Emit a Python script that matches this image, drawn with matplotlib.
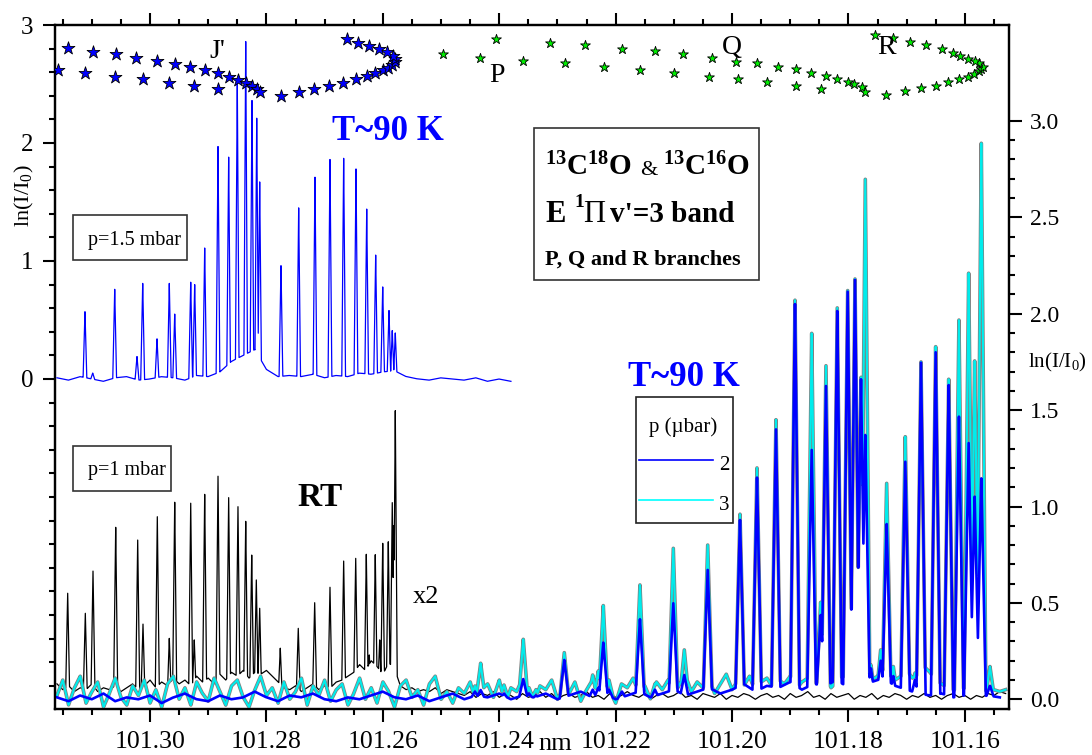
import numpy as np
import matplotlib
matplotlib.use("Agg")
import matplotlib.pyplot as plt
from matplotlib.ticker import MultipleLocator, FixedLocator, FormatStrFormatter
from matplotlib.patches import Rectangle
from matplotlib.lines import Line2D

plt.rcParams['font.family'] = ['Liberation Serif', 'DejaVu Serif']
plt.rcParams['mathtext.fontset'] = 'custom'
plt.rcParams['mathtext.rm'] = 'Liberation Serif'
plt.rcParams['mathtext.it'] = 'Liberation Serif:italic'
plt.rcParams['mathtext.bf'] = 'Liberation Serif:bold'

# ---------------- data ----------------
# T~90 K, p=1.5 mbar spectrum (left axis)
upper_peak_nm = [101.31119, 101.30986, 101.30608, 101.30225, 101.30127, 101.29881, 101.29670,
                 101.29577, 101.29302, 101.29234, 101.29062, 101.28833, 101.28650, 101.28502,
                 101.28357, 101.28249, 101.28168, 101.28117, 101.27751, 101.27447, 101.27167,
                 101.26909, 101.26674, 101.26462, 101.26278, 101.26124, 101.26003, 101.25895,
                 101.25839, 101.25787]
upper_peak_h = [0.57, 0.05, 0.76, 0.19, 0.81, 0.34, 0.81, 0.55, 0.82, 0.80, 1.11, 1.97, 1.88, 2.53,
                2.86, 2.36, 2.21, 1.67, 0.96, 1.45, 1.71, 1.86, 1.87, 1.78, 1.44, 1.05, 0.78, 0.58,
                0.41, 0.39]
upper_base = [0.01, -0.01, 0.02, 0.00, -0.02, 0.01, 0.02, -0.01, 0.00, 0.02,
              0.01, -0.01, 0.03, 0.02, 0.06, 0.15, 0.20, 0.25, 0.08, 0.02,
              0.03, 0.02, 0.04, 0.01, 0.03, 0.02, 0.05, 0.04, 0.06, 0.07,
              0.02, 0.00, -0.01, 0.01, 0.00, -0.01, 0.01, -0.02, 0.00, -0.02]

# RT, p=1 mbar spectrum (x2, right axis)
rt_peak_nm = [101.31416, 101.31113, 101.30981, 101.30591, 101.30213, 101.30122, 101.29876,
              101.29670, 101.29577, 101.29302, 101.29241, 101.29062, 101.28833, 101.28650,
              101.28490, 101.28357, 101.28254, 101.28175, 101.28117, 101.27763, 101.27454,
              101.27172, 101.26909, 101.26674, 101.26467, 101.26285, 101.26234, 101.26131,
              101.26055, 101.26003, 101.25907, 101.25839, 101.25813, 101.25787]
rt_peak_h = [0.55, 0.446, 0.665, 0.892, 0.826, 0.39, 0.947, 0.316, 1.022, 1.017, 0.308, 1.063,
             1.157, 1.046, 0.999, 0.923, 0.748, 0.619, 0.472, 0.265, 0.368, 0.501, 0.581, 0.717,
             0.731, 0.752, 0.23, 0.75, 0.308, 0.809, 0.817, 1.02, 0.90, 1.497]
rt_base = [0.08, 0.05, 0.07, 0.04, 0.06, 0.05, 0.08, 0.04, 0.06, 0.05,
           0.07, 0.04, 0.06, 0.08, 0.05, 0.07, 0.10, 0.06, 0.09, 0.07,
           0.11, 0.08, 0.10, 0.07, 0.12, 0.09, 0.11, 0.08, 0.13, 0.10,
           0.14, 0.12, 0.15, 0.11, 0.14, 0.13, 0.15, 0.12, 0.09, 0.06,
           0.05, 0.07, 0.04, 0.06, 0.08, 0.05, 0.07, 0.06, 0.09, 0.10,
           0.12, 0.14, 0.18, 0.15, 0.20, 0.17, 0.13, 0.19, 0.16, 0.07,
           0.05, 0.06, 0.04, 0.05, 0.04, 0.06, 0.03, 0.05, 0.04, 0.03,
           0.02, 0.04, 0.01, 0.03, 0.02, 0.04, 0.01, 0.03, 0.02, 0.00,
           0.03, 0.01, 0.02, 0.04, 0.01, 0.03, 0.00, 0.02, 0.03, 0.01,
           0.02, 0.04, 0.01, 0.02, 0.00, 0.03, 0.01, 0.02, 0.04, 0.02,
           0.01, 0.03, 0.00, 0.02, 0.03, 0.01, 0.02, 0.04, 0.01, 0.02,
           0.00, 0.03, 0.02, 0.01, 0.03, 0.00, 0.02, 0.01, 0.03, 0.02,
           0.00, 0.02, 0.03, 0.01, 0.02, 0.00, 0.03, 0.01, 0.02, 0.04,
           0.01, 0.02, 0.00, 0.03, 0.01, 0.02, 0.03, 0.00, 0.02, 0.01,
           0.03, 0.00, 0.02, 0.01, 0.03, 0.02, 0.00, 0.02, 0.01, 0.03,
           0.01, 0.02, 0.00, 0.02, 0.03, 0.01, 0.02, 0.00, 0.02, 0.01,
           0.03, 0.02, 0.04, 0.03]

# T~90 K spectra at p = 2 and 3 microbar (right axis)
cold_peak_nm = [101.24418, 101.24320, 101.23919, 101.23588, 101.23490, 101.23369, 101.22883,
                101.22395, 101.22299, 101.22213, 101.22115, 101.21892, 101.21583, 101.21325,
                101.21010, 101.20821, 101.20419, 101.19864, 101.19572, 101.19246, 101.18919,
                101.18632, 101.18478, 101.18387, 101.18193, 101.18014, 101.17888, 101.17785,
                101.17711, 101.17614, 101.17447, 101.17344, 101.17230, 101.17024, 101.16858,
                101.16754, 101.16502, 101.16278, 101.16102, 101.15935, 101.15832, 101.15718,
                101.15569]
p3_peak_h = [0.069, 0.187, 0.074, 0.311, 0.06, 0.05, 0.242, 0.126, 0.147, 0.486, 0.10, 0.06,
             0.593, 0.08, 0.783, 0.256, 0.80, 0.96, 1.20, 1.45, 2.07, 1.898, 0.503, 1.73, 2.03,
             2.12, 2.18, 1.67, 2.697, 0.178, 0.256, 1.12, 0.17, 1.362, 0.136, 1.75, 1.829, 1.66,
             1.967, 2.21, 1.755, 2.884, 0.17]
p2_peak_h = [0.04, 0.048, 0.03, 0.105, 0.03, 0.02, 0.204, 0.05, 0.06, 0.294, 0.05, 0.04,
             0.415, 0.05, 0.498, 0.126, 0.671, 0.93, 1.15, 1.40, 2.05, 1.293, 0.437, 1.625, 2.014,
             2.114, 2.175, 1.66, 1.371, 0.16, 0.20, 0.909, 0.12, 1.232, 0.10, 1.746, 1.80, 1.63,
             1.466, 1.329, 1.051, 1.146, 0.07]
p3_base = [0.02, 0.10, -0.03, 0.06, 0.12, -0.02, 0.04, 0.09, -0.04, 0.03,
           0.11, 0.01, -0.03, 0.07, 0.02, 0.10, -0.02, 0.05, -0.04, 0.08,
           0.12, 0.00, 0.06, -0.03, 0.09, 0.03, -0.01, 0.11, 0.04, -0.03,
           0.07, 0.10, 0.01, -0.04, 0.05, 0.12, 0.02, 0.06, -0.02, 0.09,
           0.00, 0.04, 0.11, -0.03, 0.07, 0.02, 0.10, -0.01, 0.05, 0.08,
           -0.03, 0.03, 0.11, 0.00, 0.06, -0.02, 0.09, 0.04, -0.04, 0.07,
           0.10, 0.01, 0.05, -0.03, 0.08, 0.12, 0.00, 0.04, -0.02, 0.06,
           0.03, 0.09, -0.02, 0.05, 0.08, 0.01, 0.10, -0.03, 0.06, 0.04,
           0.11, 0.02, -0.02, 0.07, 0.05, 0.10, 0.00, 0.06, 0.03, 0.09,
           -0.01, 0.05, 0.10, 0.02, 0.07, 0.04, -0.02, 0.08, 0.06, 0.11,
           0.03, 0.07, 0.00, 0.09, 0.05, 0.10, 0.02, 0.08, 0.12, 0.04,
           0.09, 0.06, 0.11, 0.03, 0.08, 0.13, 0.05, 0.10, 0.07, 0.12,
           0.04, 0.09, 0.11, 0.06, 0.10, 0.08, 0.12, 0.05, 0.09, 0.11,
           0.07, 0.10, 0.13, 0.06, 0.09, 0.12, 0.08, 0.11, 0.14, 0.07,
           0.10, 0.12, 0.09, 0.13, 0.10, 0.12, 0.15, 0.11, 0.13, 0.17,
           0.14, 0.10, 0.08, 0.06, 0.05, 0.04, 0.06, 0.05, 0.04, 0.05,
           0.04, 0.05, 0.04, 0.05]
p2_base = [0.01, -0.01, 0.02, 0.00, 0.03, -0.01, 0.01, 0.00, 0.02, -0.02,
           0.01, 0.03, 0.00, -0.01, 0.02, 0.00, 0.01, 0.04, 0.01, -0.01,
           0.02, 0.01, 0.03, 0.00, -0.01, 0.01, 0.00, 0.02, 0.04, 0.01,
           0.00, 0.02, -0.01, 0.01, 0.03, 0.00, 0.02, 0.01, 0.03, 0.00,
           0.02, 0.01, 0.03, 0.00, 0.02, 0.04, 0.01, 0.03, 0.00, 0.02,
           0.04, 0.01, 0.03, 0.05, 0.02, 0.04, 0.06, 0.03, 0.05, 0.08,
           0.04, 0.07, 0.06, 0.09, 0.05, 0.08, 0.07, 0.10, 0.06, 0.08,
           0.09, 0.11, 0.07, 0.05, 0.03, 0.02, 0.03, 0.01, 0.02, 0.01,
           0.02, 0.01]

# rotational quantum number J' markers (drawn on the left scale)
blue_star_nm = [101.31582, 101.31416, 101.30981, 101.30581, 101.30237, 101.29881, 101.29572,
                101.29309, 101.29057, 101.28833, 101.28650, 101.28490, 101.28357, 101.28244,
                101.28168, 101.28117, 101.31113, 101.30608, 101.30127, 101.29670, 101.29241,
                101.28833, 101.27751, 101.27447, 101.27179, 101.26921, 101.26680, 101.26467,
                101.26278, 101.26131, 101.26003, 101.25907, 101.25839, 101.25797, 101.25792,
                101.25832, 101.25935, 101.26067, 101.26234, 101.26423, 101.26622]
blue_star_val = [2.619, 2.803, 2.774, 2.752, 2.720, 2.695, 2.669, 2.642, 2.616, 2.593, 2.562,
                 2.536, 2.508, 2.483, 2.460, 2.432, 2.591, 2.562, 2.540, 2.511, 2.483, 2.460,
                 2.401, 2.432, 2.458, 2.483, 2.511, 2.540, 2.565, 2.591, 2.616, 2.638, 2.661,
                 2.689, 2.709, 2.737, 2.771, 2.799, 2.825, 2.850, 2.881]
green_star_nm = [101.24967, 101.24323, 101.24048, 101.23588, 101.23127, 101.22876, 101.22534,
                 101.22206, 101.21890, 101.21581, 101.21318, 101.20990, 101.20839, 101.20399,
                 101.20352, 101.19906, 101.19931, 101.19576, 101.19392, 101.19215, 101.18899,
                 101.18899, 101.18643, 101.18478, 101.18392, 101.18196, 101.18010, 101.17899,
                 101.17768, 101.17715, 101.17354, 101.17024, 101.16761, 101.16498, 101.16282,
                 101.16105, 101.15947, 101.15847, 101.15763, 101.15724, 101.15696, 101.15763,
                 101.15828, 101.15940, 101.16077, 101.16210, 101.16387, 101.16670, 101.16945,
                 101.17242, 101.17538]
green_star_val = [2.754, 2.718, 2.881, 2.695, 2.850, 2.675, 2.831, 2.642, 2.799, 2.619, 2.777,
                  2.596, 2.757, 2.562, 2.723, 2.540, 2.689, 2.675, 2.519, 2.644, 2.625, 2.486,
                  2.596, 2.460, 2.567, 2.540, 2.517, 2.497, 2.472, 2.435, 2.407, 2.441, 2.464,
                  2.483, 2.519, 2.540, 2.562, 2.585, 2.608, 2.630, 2.647, 2.675, 2.697, 2.714,
                  2.737, 2.765, 2.797, 2.831, 2.853, 2.887, 2.913]

x_ticks = [101.30, 101.28, 101.26, 101.24, 101.22, 101.20, 101.18, 101.16]
left_ticks = [0, 1, 2, 3]
right_ticks = [0.0, 0.5, 1.0, 1.5, 2.0, 2.5, 3.0]

# sampling grids of the baseline readings
UP_START, UP_STEP = 101.316, 0.002
RT_START, RT_STEP = 101.316, 0.001
P3_START, P3_STEP = 101.316, 0.001
P2_START, P2_STEP = 101.316, 0.002


def build(start, step, base, centers, heights, hw, n=9000):
    base = np.asarray(base, float)
    gx = start - step * np.arange(len(base))
    x = np.linspace(gx[-1], gx[0], n)
    x = np.unique(np.concatenate([x, np.asarray(centers, float)]))
    y = np.interp(x, gx[::-1], base[::-1])
    for c, h in zip(centers, heights):
        y = np.maximum(y, h * (1 - np.abs(x - c) / hw))
    return x, y


W, H = 1092, 755
fig = plt.figure(figsize=(W / 100, H / 100), dpi=100)


def fx(px):
    return px / W


def fy(py):
    return 1 - py / H


ax = fig.add_axes([fx(55), fy(709), (1009 - 55) / W, (709 - 25) / H])
ax2 = ax.twinx()

ax.set_xlim(101.31634, 101.15242)
ax.set_ylim(-2.797, 3.0)
ax2.set_ylim(-0.0503, 3.4974)

BLUE = '#0000ff'
CYAN = '#00ecec'

# RT spectrum
xr, yr = build(RT_START, RT_STEP, rt_base, rt_peak_nm, rt_peak_h, 0.00036)
ax2.plot(xr, yr, color='black', lw=0.9, zorder=2)
# 3 microbar
x3, y3 = build(P3_START, P3_STEP, p3_base, cold_peak_nm, p3_peak_h, 0.0008)
ax2.plot(x3, y3, color='#808080', lw=2.6, zorder=3, solid_joinstyle='round')
ax2.plot(x3, y3, color=CYAN, lw=1.5, zorder=3.1, solid_joinstyle='round')
# 2 microbar
x2, y2 = build(P2_START, P2_STEP, p2_base, cold_peak_nm, p2_peak_h, 0.0008)
ax2.plot(x2, y2, color=BLUE, lw=1.9, zorder=4, solid_joinstyle='round')

# upper spectrum (left axis)
xu, yu = build(UP_START, UP_STEP, upper_base, upper_peak_nm, upper_peak_h, 0.00032)
ax.plot(xu, yu, color=BLUE, lw=0.9, zorder=3)

# stars
ax.scatter(blue_star_nm, blue_star_val, marker='*', s=95, c=BLUE, edgecolors='black',
           linewidths=0.6, zorder=6, clip_on=True)
ax.scatter(green_star_nm, green_star_val, marker='*', s=55, c='#00ee00', edgecolors='black',
           linewidths=0.6, zorder=6, clip_on=True)
ax.set_zorder(ax2.get_zorder() + 1)
ax.patch.set_visible(False)

# ticks
ax.xaxis.set_major_locator(FixedLocator(x_ticks))
ax.xaxis.set_minor_locator(MultipleLocator(0.005))
ax.xaxis.set_major_formatter(FormatStrFormatter('%.2f'))
ax.yaxis.set_major_locator(FixedLocator(left_ticks))
minor_left = [round(v, 1) for v in np.arange(-2.6, 3.0, 0.2) if round(v, 1) not in (0.0, 1.0, 2.0)]
ax.yaxis.set_minor_locator(FixedLocator(minor_left))
ax2.yaxis.set_major_locator(FixedLocator(right_ticks))
ax2.yaxis.set_minor_locator(FixedLocator([round(v, 1) for v in np.arange(0.1, 3.0, 0.1)]))
ax2.yaxis.set_major_formatter(FormatStrFormatter('%.1f'))

ax.tick_params(axis='x', which='both', direction='out', top=True, bottom=True,
               labeltop=False, width=1.5, labelsize=18.5, pad=7)
ax.tick_params(axis='x', which='major', length=9)
ax.tick_params(axis='x', which='minor', length=4.5)
ax.tick_params(axis='y', which='both', direction='out', width=1.5, labelsize=18, pad=7)
ax.tick_params(axis='y', which='major', length=8.5)
ax.tick_params(axis='y', which='minor', length=4.5)
ax2.tick_params(axis='y', which='both', direction='out', width=1.5, labelsize=17, pad=6)
ax2.tick_params(axis='y', which='major', length=9)
ax2.tick_params(axis='y', which='minor', length=4.5)
for a in (ax, ax2):
    for s in a.spines.values():
        s.set_linewidth(1.6)

# axis labels
fig.text(fx(24), fy(196), r'ln(I/I$_0$)', rotation=90, fontsize=16, ha='center', va='center')
fig.text(fx(1057), fy(362), r'ln(I/I$_0$)', fontsize=15, ha='center', va='center')
fig.text(fx(555), fy(744), 'nm', fontsize=19, ha='center', va='center')

# annotations
fig.text(fx(388), fy(131), 'T~90 K', fontsize=25, fontweight='bold', color=BLUE,
         ha='center', va='center')
fig.text(fx(684), fy(377), 'T~90 K', fontsize=25, fontweight='bold', color=BLUE,
         ha='center', va='center')
fig.text(fx(320), fy(497), 'RT', fontsize=24, fontweight='bold', ha='center', va='center')
fig.text(fx(426), fy(597), 'x2', fontsize=19, ha='center', va='center')
fig.text(fx(217), fy(52), "J'", fontsize=20, ha='center', va='center')
fig.text(fx(497), fy(75), 'P', fontsize=20, ha='center', va='center')
fig.text(fx(732), fy(47), 'Q', fontsize=20, ha='center', va='center')
fig.text(fx(887), fy(47), 'R', fontsize=20, ha='center', va='center')

# boxes
def box(x0, y0, x1, y1, ec='#333333'):
    fig.add_artist(Rectangle((fx(x0), fy(y1)), (x1 - x0) / W, (y1 - y0) / H,
                             transform=fig.transFigure, fill=True, fc='white', ec=ec,
                             lw=1.2, zorder=5))

box(73, 215, 187, 260)
fig.text(fx(135), fy(240), 'p=1.5 mbar', fontsize=14.5, ha='center', va='center', zorder=6)
box(73, 446, 171, 491)
fig.text(fx(127), fy(471), 'p=1 mbar', fontsize=14.5, ha='center', va='center', zorder=6)

box(534, 128, 759, 280)
fig.text(fx(545), fy(175), r'$^{\mathbf{13}}\mathbf{C}^{\mathbf{18}}\mathbf{O}$', fontsize=21,
         ha='left', va='baseline', zorder=6)
fig.text(fx(640), fy(175), '&', fontsize=16, ha='left', va='baseline', zorder=6)
fig.text(fx(663), fy(175), r'$^{\mathbf{13}}\mathbf{C}^{\mathbf{16}}\mathbf{O}$', fontsize=21,
         ha='left', va='baseline', zorder=6)
fig.text(fx(545), fy(221.7), 'E', fontsize=22, fontweight='bold', ha='left', va='baseline', zorder=6)
fig.text(fx(574), fy(207), '1', fontsize=14, fontweight='bold', ha='left', va='baseline', zorder=6)
fig.text(fx(583), fy(221.7), '\u03a0', fontsize=22, ha='left', va='baseline', zorder=6)
fig.text(fx(610), fy(221.7), "v'=3 band", fontsize=21, fontweight='bold', ha='left',
         va='baseline', zorder=6)
fig.text(fx(545), fy(265), 'P, Q and R branches', fontsize=16, fontweight='bold', ha='left',
         va='baseline', zorder=6)

# legend
box(636, 397, 733, 523, ec='#222222')
fig.text(fx(683), fy(427), 'p (\u00b5bar)', fontsize=15, ha='center', va='center', zorder=6)
fig.add_artist(Line2D([fx(639), fx(713)], [fy(460), fy(460)], color=BLUE, lw=1.2, zorder=6))
fig.text(fx(724), fy(465), '2', fontsize=15, ha='center', va='center', zorder=6)
fig.add_artist(Line2D([fx(639), fx(713)], [fy(500), fy(500)], color='#00ffff', lw=1.2, zorder=6))
fig.text(fx(724), fy(505), '3', fontsize=15, ha='center', va='center', zorder=6)

fig.savefig('out.png', dpi=100)
